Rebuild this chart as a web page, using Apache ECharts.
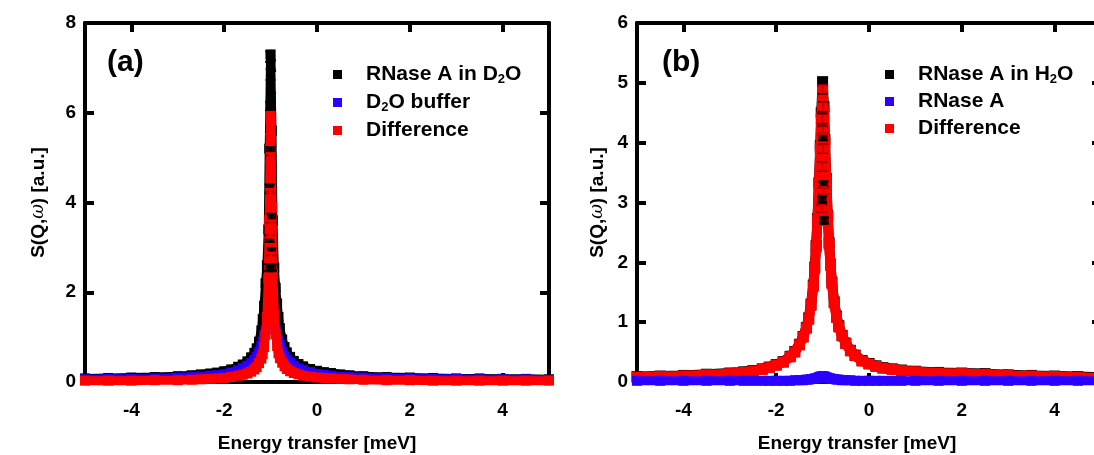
<!DOCTYPE html>
<html>
<head>
<meta charset="utf-8">
<script src="https://cdn.jsdelivr.net/npm/echarts@6/dist/echarts.min.js"></script>
<style>
    html, body { margin: 0; padding: 0; background: #fff; }
    #main { width: 1094px; height: 455px; }
</style>
</head>
<body>
<div id="main"></div>
<script>
// energy transfer grid (meV), shared by every curve
var energy = [-5.0, -4.5, -4.0, -3.5, -3.0, -2.7, -2.5, -2.3, -2.15, -2.0, -1.85, -1.7, -1.6, -1.5, -1.42, -1.35, -1.3, -1.25, -1.2, -1.17, -1.14, -1.11, -1.08, -1.05, -1.03,
    -1.0,
    -0.97, -0.95, -0.92, -0.89, -0.86, -0.83, -0.8, -0.75, -0.7, -0.65, -0.58, -0.5, -0.4, -0.3, -0.15, 0.0, 0.15, 0.3, 0.5, 0.7, 1.0, 1.5, 2.0, 2.5, 3.0, 3.5, 4.0, 4.5, 5.0];
var xTicks = [-4, -2, 0, 2, 4];

// (a) RNase A in D2O, D2O buffer, difference
var sampleD2O = [0.08, 0.09, 0.1, 0.11, 0.13, 0.15, 0.17, 0.19, 0.21, 0.24, 0.28, 0.34, 0.39, 0.46, 0.55, 0.65, 0.75, 0.9, 1.15, 1.4, 1.7, 2.2, 2.6, 3.4, 5.2,
    7.3,
    5.6, 3.6, 2.55, 2.1, 1.75, 1.45, 1.2, 0.95, 0.78, 0.66, 0.56, 0.47, 0.4, 0.35, 0.29, 0.25, 0.22, 0.2, 0.17, 0.15, 0.13, 0.11, 0.1, 0.09, 0.08, 0.08, 0.07, 0.07, 0.06];
var bufferD2O = [0.06, 0.07, 0.07, 0.08, 0.1, 0.11, 0.12, 0.14, 0.15, 0.17, 0.21, 0.26, 0.31, 0.36, 0.42, 0.49, 0.56, 0.66, 0.8, 0.9, 1.02, 1.15, 1.3, 1.42, 1.49,
    1.54,
    1.5, 1.44, 1.32, 1.17, 1.04, 0.92, 0.82, 0.67, 0.57, 0.5, 0.43, 0.36, 0.3, 0.26, 0.22, 0.18, 0.16, 0.14, 0.12, 0.11, 0.1, 0.09, 0.08, 0.07, 0.07, 0.06, 0.06, 0.06, 0.05];
var diffD2O = [0.03, 0.03, 0.03, 0.04, 0.04, 0.05, 0.06, 0.07, 0.08, 0.09, 0.11, 0.14, 0.16, 0.19, 0.23, 0.28, 0.33, 0.42, 0.52, 0.62, 0.78, 1.05, 1.45, 2.3, 3.6,
    5.9,
    3.9, 2.4, 1.5, 1.07, 0.8, 0.64, 0.53, 0.43, 0.35, 0.29, 0.24, 0.2, 0.17, 0.14, 0.12, 0.1, 0.09, 0.08, 0.07, 0.06, 0.05, 0.04, 0.04, 0.03, 0.03, 0.03, 0.03, 0.03, 0.03];

// (b) RNase A in H2O, RNase A, difference
var sampleH2O = [0.09, 0.1, 0.11, 0.13, 0.15, 0.17, 0.19, 0.22, 0.25, 0.29, 0.34, 0.43, 0.51, 0.63, 0.76, 0.91, 1.07, 1.3, 1.62, 1.92, 2.28, 2.73, 3.33, 3.95, 4.5,
    5.02,
    4.6, 4.05, 3.4, 2.78, 2.33, 1.97, 1.67, 1.34, 1.1, 0.94, 0.78, 0.65, 0.53, 0.45, 0.36, 0.31, 0.27, 0.24, 0.22, 0.2, 0.18, 0.16, 0.15, 0.14, 0.12, 0.11, 0.1, 0.09, 0.08];
var proteinH2O = [0.02, 0.02, 0.02, 0.02, 0.02, 0.02, 0.02, 0.02, 0.02, 0.02, 0.02, 0.02, 0.03, 0.03, 0.03, 0.04, 0.04, 0.05, 0.05, 0.06, 0.06, 0.07, 0.08, 0.09, 0.09,
    0.1,
    0.09, 0.09, 0.08, 0.07, 0.06, 0.06, 0.05, 0.05, 0.04, 0.04, 0.03, 0.03, 0.03, 0.02, 0.02, 0.02, 0.02, 0.02, 0.02, 0.02, 0.02, 0.02, 0.02, 0.02, 0.02, 0.02, 0.02, 0.02, 0.02];
var diffH2O = [0.08, 0.09, 0.1, 0.12, 0.14, 0.16, 0.18, 0.21, 0.24, 0.28, 0.33, 0.42, 0.5, 0.62, 0.75, 0.9, 1.05, 1.28, 1.6, 1.9, 2.25, 2.7, 3.3, 3.9, 4.4,
    4.9,
    4.5, 4.0, 3.35, 2.75, 2.3, 1.95, 1.65, 1.32, 1.08, 0.92, 0.77, 0.64, 0.52, 0.44, 0.35, 0.3, 0.26, 0.23, 0.21, 0.19, 0.17, 0.15, 0.14, 0.13, 0.11, 0.1, 0.09, 0.08, 0.07];

// points around the quasi-elastic peak with error bars: [energy, S, error]
var peakSampleD2O = [[-1.01, 7.25, 0.12], [-0.99, 7.05, 0.12], [-1.0, 6.85, 0.12], [-0.99, 6.35, 0.1], [-1.01, 6.15, 0.1], [-1.0, 5.15, 0.1],
    [-1.02, 4.3, 0.1], [-0.98, 3.65, 0.1], [-1.02, 3.2, 0.08], [-0.98, 2.9, 0.08], [-1.03, 2.55, 0.08], [-0.97, 2.55, 0.08]];
var peakDiffD2O = [[-1.0, 5.9, 0.12], [-0.99, 5.65, 0.12], [-1.01, 5.4, 0.12], [-1.0, 5.0, 0.1], [-0.99, 4.8, 0.1], [-1.01, 4.2, 0.1],
    [-0.99, 4.0, 0.1], [-0.98, 3.5, 0.1], [-1.01, 3.3, 0.08], [-0.99, 2.8, 0.08], [-1.0, 2.2, 0.08], [-0.98, 1.9, 0.08]];
var peakSampleH2O = [[-1.0, 5.02, 0.06], [-0.99, 4.1, 0.06], [-0.98, 3.3, 0.05], [-1.01, 3.05, 0.05], [-0.97, 2.7, 0.05]];
var peakDiffH2O = [[-1.0, 4.9, 0.08], [-0.99, 4.6, 0.08], [-1.01, 4.4, 0.08], [-1.0, 4.2, 0.07], [-0.99, 3.9, 0.07], [-1.01, 3.6, 0.07],
    [-0.98, 3.2, 0.06], [-1.02, 2.9, 0.06]];

var FONT = "'Liberation Sans', Arial, sans-serif";
var BLACK = '#000000', BLUE = '#2a00ff', RED = '#ff0000';

var legendText = {
    sampleD2O: 'RNase A in D{sub|2}O',
    bufferD2O: 'D{sub|2}O buffer',
    diffD2O: 'Difference',
    sampleH2O: 'RNase A in H{sub|2}O',
    proteinH2O: 'RNase A',
    diffH2O: 'Difference'
};

function band(name, axis, values, color, z, size) {
    return {
        name: name, type: 'line', xAxisIndex: axis * 2, yAxisIndex: axis * 2, z: z,
        data: energy.map(function (e, i) { return [e, values[i]]; }),
        symbol: 'rect', symbolSize: size, showAllSymbol: true,
        itemStyle: { color: color },
        lineStyle: { color: color, width: size - 1, join: 'bevel' },
        animation: false
    };
}

function peak(name, axis, pts, color, z) {
    return {
        name: name, type: 'scatter', xAxisIndex: axis * 2, yAxisIndex: axis * 2, z: z,
        data: pts.map(function (p) { return [p[0], p[1]]; }),
        symbol: 'rect', symbolSize: 9,
        itemStyle: { color: color }, animation: false
    };
}

function errorBars(axis, pts, color, z) {
    return {
        type: 'custom', xAxisIndex: axis * 2, yAxisIndex: axis * 2, z: z,
        data: pts, animation: false,
        renderItem: function (params, api) {
            var x = api.value(0), y = api.value(1), e = api.value(2);
            var hi = api.coord([x, y + e]), lo = api.coord([x, y - e]);
            var st = { stroke: color, lineWidth: 2 };
            return {
                type: 'group', children: [
                    { type: 'line', shape: { x1: hi[0], y1: hi[1], x2: lo[0], y2: lo[1] }, style: st },
                    { type: 'line', shape: { x1: hi[0] - 5, y1: hi[1], x2: hi[0] + 5, y2: hi[1] }, style: st },
                    { type: 'line', shape: { x1: lo[0] - 5, y1: lo[1], x2: lo[0] + 5, y2: lo[1] }, style: st }
                ]
            };
        }
    };
}

var frame = { show: true, onZero: false, lineStyle: { color: '#000', width: 4 } };
var tick = { show: true, inside: true, length: 9, lineStyle: { color: '#000', width: 4 } };
var label = { fontFamily: FONT, fontWeight: 'bold', fontSize: 19, color: '#000' };
var xName = 'Energy transfer [meV]';
var yName = 'S(Q,{w|\u03c9}) [a.u.]';
var nameStyle = {
    fontFamily: FONT, fontWeight: 'bold', fontSize: 19, color: '#000',
    rich: { w: { fontFamily: "'DejaVu Serif', serif", fontWeight: 'normal', fontStyle: 'italic', fontSize: 18, color: '#000' } }
};

function xAxes(grid, namePad) {
    return [{
        type: 'value', gridIndex: grid, position: 'bottom', min: -5, max: 5,
        axisLine: frame, splitLine: { show: false },
        axisTick: Object.assign({ customValues: xTicks }, tick),
        axisLabel: Object.assign({ customValues: xTicks, margin: 19 }, label),
        name: xName, nameLocation: 'middle', nameGap: 52,
        nameTextStyle: Object.assign({ padding: namePad }, nameStyle)
    }, {
        type: 'value', gridIndex: grid, position: 'top', min: -5, max: 5,
        axisLine: frame, splitLine: { show: false },
        axisTick: Object.assign({ customValues: xTicks }, tick),
        axisLabel: { show: false }
    }];
}

function yAxes(grid, max, step, gap) {
    return [{
        type: 'value', gridIndex: grid, position: 'left', min: 0, max: max, interval: step,
        axisLine: frame, axisTick: tick, splitLine: { show: false },
        axisLabel: Object.assign({ margin: 9 }, label),
        name: yName, nameLocation: 'middle', nameGap: gap, nameTextStyle: nameStyle
    }, {
        type: 'value', gridIndex: grid, position: 'right', min: 0, max: max, interval: step,
        axisLine: frame, axisTick: tick, splitLine: { show: false },
        axisLabel: { show: false }
    }];
}

function legend(left, names, gap) {
    return {
        orient: 'vertical', left: left, top: 58, itemGap: gap,
        itemWidth: 9, itemHeight: 9, icon: 'rect',
        data: names,
        formatter: function (n) { return legendText[n]; },
        textStyle: {
            fontFamily: FONT, fontWeight: 'bold', fontSize: 21, color: '#000', lineHeight: 23,
            padding: [0, 0, 0, 19],
            rich: { sub: { fontFamily: FONT, fontWeight: 'bold', fontSize: 13, color: '#000', verticalAlign: 'bottom', lineHeight: 14 } }
        }
    };
}

var chart = echarts.init(document.getElementById('main'), null, { renderer: 'canvas' });
chart.setOption({
    backgroundColor: '#fff',
    animation: false,
    grid: [
        { left: 85, top: 23, width: 464, height: 359, outerBoundsMode: 'none' },
        { left: 637, top: 23, width: 464, height: 359, outerBoundsMode: 'none' }
    ],
    xAxis: xAxes(0, [0, 0, 0, 0]).concat(xAxes(1, [0, 24, 0, 0])),
    yAxis: yAxes(0, 8, 2, 37).concat(yAxes(1, 6, 1, 30)),
    legend: [
        legend(328, ['sampleD2O', 'bufferD2O', 'diffD2O'], 5),
        legend(880, ['sampleH2O', 'proteinH2O', 'diffH2O'], 4)
    ],
    graphic: [
        { type: 'text', left: 107, top: 48, style: { text: '(a)', font: 'bold 30px ' + FONT, fill: '#000' } },
        { type: 'text', left: 662, top: 48, style: { text: '(b)', font: 'bold 30px ' + FONT, fill: '#000' } }
    ],
    series: [
        band('sampleD2O', 0, sampleD2O, BLACK, 2, 10),
        band('bufferD2O', 0, bufferD2O, BLUE, 3, 10),
        band('diffD2O', 0, diffD2O, RED, 4, 10),
        peak('sampleD2O', 0, peakSampleD2O, BLACK, 5),
        errorBars(0, peakSampleD2O, BLACK, 5),
        peak('diffD2O', 0, peakDiffD2O, RED, 6),
        errorBars(0, peakDiffD2O, RED, 6),

        band('sampleH2O', 1, sampleH2O, BLACK, 2, 11),
        band('diffH2O', 1, diffH2O, RED, 3, 11),
        band('proteinH2O', 1, proteinH2O, BLUE, 4, 10),
        peak('sampleH2O', 1, peakSampleH2O, BLACK, 5),
        errorBars(1, peakSampleH2O, BLACK, 5),
        peak('diffH2O', 1, peakDiffH2O, RED, 6),
        errorBars(1, peakDiffH2O, BLACK, 6)
    ]
});
</script>
</body>
</html>
